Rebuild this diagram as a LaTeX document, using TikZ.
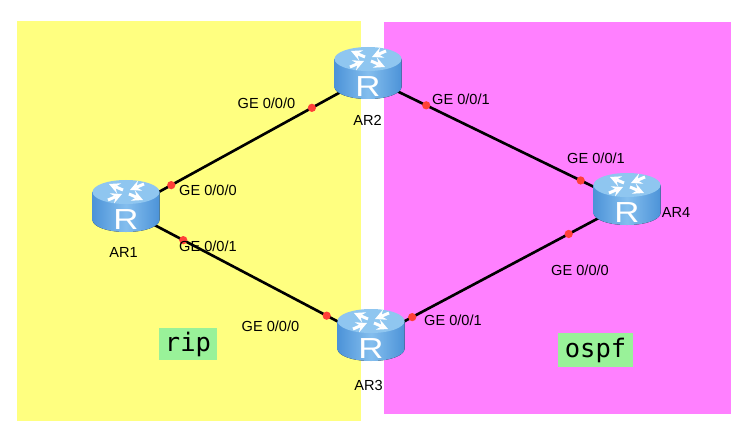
\documentclass[tikz,border=0pt]{standalone}
\usepackage{fontspec}
\setmainfont{Liberation Sans}
\newfontfamily\areafont{DejaVu Sans Mono}
\definecolor{ripyellow}{HTML}{FFFF80}
\definecolor{ospfpink}{HTML}{FF80FF}
\definecolor{areagreen}{HTML}{99F299}
\definecolor{portred}{HTML}{FF4038}
\definecolor{routertop}{HTML}{8FC6F0}
\definecolor{routerside}{HTML}{4C93D8}
\definecolor{routerlight}{HTML}{84BEEE}
\newcommand{\routerbody}[2][0]{
\begin{scope}[shift={(0,#1)}, shift={(#2)}]
\fill[left color=routerside, right color=routerside, middle color=routerlight]
  (-33.5,-18) -- (-33.5,10) arc[start angle=180, end angle=0, x radius=33.5, y radius=12] -- (33.5,-18) -- cycle;
\fill[routertop] (0,-18) ellipse[x radius=33.5, y radius=12];
\draw[routerarrow] (-3,-20) -- (-17,-26);
\draw[routerarrow] (18,-26) -- (4,-20);
\draw[routerarrow] (3,-16) -- (17,-10);
\draw[routerarrow] (-18,-10) -- (-4,-16);
\node[routerletter] (R#2) at (0,9.5) {R};
\end{scope}
}
\begin{document}
\begin{tikzpicture}[x=0.02cm, y=-0.02cm]
\tikzset{hub/.style={inner sep=0pt, minimum size=0pt},
  area/.style={inner sep=0pt, outer sep=0pt, fill=areagreen, font=\areafont\fontsize{14.5}{16}\selectfont},
  link/.style={draw, line width=1.5pt},
  portdot/.style={circle, fill=portred, inner sep=0pt, minimum size=0.165cm},
  port/.style={font=\fontsize{8.3}{10}\selectfont, inner sep=0pt},
  routerletter/.style={text=white, inner sep=0pt, xscale=1.2, font=\fontsize{16.5}{16.5}\selectfont},
  routerarrow/.style={white, line width=1.7pt, -stealth}}
\useasboundingbox (0,0) rectangle (751,429);
\fill[ripyellow] (17,21) rectangle (361,421);
\fill[ospfpink] (384,22) rectangle (731,414);
\node[hub] (AR1) at (126,210) {};
\node[hub] (AR2) at (368,77) {};
\node[hub] (AR3) at (371,339) {};
\node[hub] (AR4) at (627,203) {};
\draw[link] (AR1) -- node[portdot, pos=0.186] (P1) {} node[portdot, pos=0.769] (P2) {} (AR2);
\draw[link] (AR1) -- node[portdot, pos=0.233] (P3) {} node[portdot, pos=0.82] (P4) {} (AR3);
\draw[link] (AR2) -- node[portdot, pos=0.224] (P5) {} node[portdot, pos=0.822] (P6) {} (AR4);
\draw[link] (AR3) -- node[portdot, pos=0.16] (P7) {} node[portdot, pos=0.773] (P8) {} (AR4);
\routerbody{AR1}
\routerbody{AR2}
\routerbody[3]{AR3}
\routerbody{AR4}
\node[port] (L1) at (208,190) {GE 0/0/0};
\node[port] (L2) at (266.5,103) {GE 0/0/0};
\node[port] (L3) at (208,246) {GE 0/0/1};
\node[port] (L4) at (270.5,326) {GE 0/0/0};
\node[port] (L5) at (461,99) {GE 0/0/1};
\node[port] (L6) at (596,158) {GE 0/0/1};
\node[port] (L7) at (453,320) {GE 0/0/1};
\node[port] (L8) at (580,270) {GE 0/0/0};
\node[port] (N1) at (123.5,252) {AR1};
\node[port] (N2) at (367.5,120) {AR2};
\node[port] (N3) at (368.5,385) {AR3};
\node[port] (N4) at (676,212) {AR4};
\node[area, minimum width=1.16cm, minimum height=0.64cm] (rip) at (188,344) {rip};
\node[area, minimum width=1.5cm, minimum height=0.68cm] (ospf) at (595.5,350) {ospf};
\end{tikzpicture}
\end{document}
